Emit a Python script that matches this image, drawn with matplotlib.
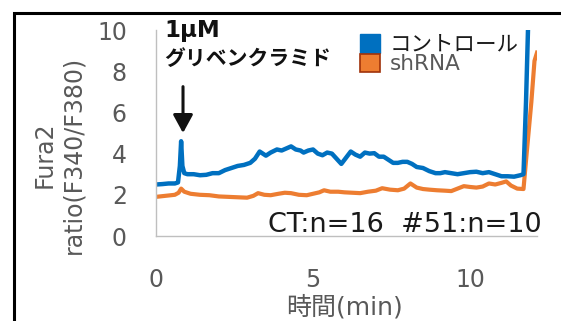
import matplotlib
matplotlib.use("Agg")
import matplotlib.pyplot as plt
from matplotlib.patches import Patch, Rectangle

plt.rcParams['font.family'] = ['DejaVu Sans', 'Noto Sans CJK JP']

# time (min) and Fura2 ratio
ctrl_t = [0.0, 0.2, 0.4, 0.6, 0.7, 0.76, 0.8, 0.84, 0.9, 1.0,
          1.2, 1.4, 1.6, 1.8, 2.0, 2.2, 2.4, 2.6, 2.8, 3.0,
          3.15, 3.3, 3.5, 3.65, 3.85, 4.0, 4.15, 4.3, 4.45, 4.6,
          4.7, 4.85, 5.0, 5.15, 5.3, 5.45, 5.6, 5.75, 5.9, 6.05,
          6.2, 6.35, 6.5, 6.65, 6.8, 6.95, 7.1, 7.25, 7.4, 7.55,
          7.7, 7.85, 8.0, 8.15, 8.3, 8.5, 8.7, 8.9, 9.05, 9.2,
          9.4, 9.6, 9.8, 10.0, 10.2, 10.4, 10.6, 10.8, 11.0, 11.2,
          11.4, 11.6, 11.7, 11.78, 11.85]
ctrl_v = [2.5, 2.52, 2.55, 2.55, 2.6, 3.4, 4.6, 3.4, 3.05, 3.0,
          3.0, 2.95, 2.97, 3.05, 3.05, 3.2, 3.3, 3.4, 3.45, 3.55,
          3.75, 4.1, 3.9, 4.05, 4.2, 4.15, 4.25, 4.35, 4.2, 4.15,
          4.05, 4.15, 4.2, 4.0, 3.92, 4.05, 4.0, 3.75, 3.5, 3.8,
          4.1, 3.95, 3.85, 4.05, 4.0, 4.02, 3.85, 3.85, 3.7, 3.55,
          3.55, 3.6, 3.6, 3.5, 3.35, 3.3, 3.15, 3.05, 3.05, 3.1,
          3.05, 3.0, 3.05, 3.1, 3.12, 3.05, 3.1, 3.0, 2.9, 2.9,
          2.88, 2.95, 3.0, 6.5, 10.4]

sh_t = [0.0, 0.3, 0.6, 0.72, 0.8, 0.9, 1.1, 1.4, 1.7, 2.0,
        2.3, 2.6, 2.9, 3.1, 3.25, 3.45, 3.65, 3.9, 4.1, 4.3,
        4.55, 4.8, 5.0, 5.2, 5.35, 5.55, 5.8, 6.0, 6.25, 6.5,
        6.75, 7.0, 7.2, 7.45, 7.7, 7.9, 8.1, 8.3, 8.5, 8.7,
        8.95, 9.2, 9.4, 9.6, 9.8, 10.0, 10.2, 10.4, 10.6, 10.8,
        11.0, 11.15, 11.3, 11.5, 11.7, 11.8, 11.95, 12.05, 12.13]
sh_v = [1.9, 1.95, 2.0, 2.1, 2.3, 2.15, 2.05, 2.0, 1.98, 1.92,
        1.9, 1.88, 1.86, 1.95, 2.08, 2.0, 1.98, 2.05, 2.1, 2.08,
        2.0, 1.98, 2.05, 2.12, 2.22, 2.15, 2.15, 2.12, 2.1, 2.08,
        2.15, 2.2, 2.32, 2.25, 2.22, 2.3, 2.55, 2.35, 2.28, 2.25,
        2.22, 2.2, 2.18, 2.3, 2.42, 2.38, 2.35, 2.4, 2.55, 2.5,
        2.58, 2.65, 2.45, 2.3, 2.28, 4.0, 6.5, 8.5, 8.9]

labels = ["コントロール", "shRNA"]
colors = ["#0070C0", "#ED7D31"]
xticks = [0, 5, 10]
yticks = [0, 2, 4, 6, 8, 10]
gray = "#595959"

fig = plt.figure(figsize=(5.61, 3.21), dpi=100)
ax = fig.add_axes([156/561, 1 - 236/321, 381/561, 206/321])

ax.plot(sh_t, sh_v, color=colors[1], lw=3.0, solid_joinstyle='round')
ax.plot(ctrl_t, ctrl_v, color=colors[0], lw=3.2, solid_joinstyle='round')

ax.set_xlim(0, 12.13)
ax.set_ylim(0, 10)
ax.set_xticks(xticks)
ax.set_yticks(yticks)
ax.tick_params(length=0, labelsize=17, labelcolor=gray)
ax.tick_params(axis='y', pad=21)
ax.tick_params(axis='x', pad=23)
for s in ["top", "right"]:
    ax.spines[s].set_visible(False)
for s in ["left", "bottom"]:
    ax.spines[s].set_color("#BFBFBF")
    ax.spines[s].set_linewidth(1)

fig.text(59/561, 1 - 155/321, "Fura2\nratio(F340/F380)", rotation=90,
         ha='center', va='center', fontsize=17, color=gray, linespacing=1.2)
fig.text(344/561, 1 - 307/321, "時間(min)", ha='center', va='center',
         fontsize=18, color=gray)

handles = [Patch(facecolor=colors[0], edgecolor=colors[0]),
           Patch(facecolor=colors[1], edgecolor="#A0320A", linewidth=1.2)]
leg = ax.legend(handles, labels, loc='upper left', bbox_to_anchor=(0.535, 0.98),
                frameon=False, fontsize=15.5, handlelength=0.95, handleheight=0.95,
                handletextpad=0.45, labelspacing=-0.05, borderpad=0, borderaxespad=0)
leg.get_texts()[0].set_color("#1a1a1a")
leg.get_texts()[1].set_color(gray)

ax.text(0.27, 10.0, "1μM", fontsize=16.5, fontweight='bold', va='center', ha='left',
        color="#111111", clip_on=False)
ax.text(0.27, 8.6, "グリベンクラミド", fontsize=15, fontweight='bold', va='center',
        ha='left', color="#111111", clip_on=False)
ax.annotate("", xy=(0.86, 5.0), xytext=(0.86, 7.25),
            arrowprops=dict(arrowstyle='-|>,head_width=0.3,head_length=0.55',
                            mutation_scale=20, color="#111111", lw=2.2,
                            shrinkA=0, shrinkB=0))

ax.text(1.013, 0.02, "CT:n=16  #51:n=10", transform=ax.transAxes, ha='right',
        va='baseline', fontsize=19.5, color="#1a1a1a")

# black frame of the panel (only left and top show)
fig.add_artist(Rectangle((13.5/561, -0.5), 2.0, 0.5 + 1 - 12.5/321,
                         transform=fig.transFigure, fill=False,
                         edgecolor='black', lw=2.2, clip_on=False))

fig.savefig("out.png", dpi=100)
